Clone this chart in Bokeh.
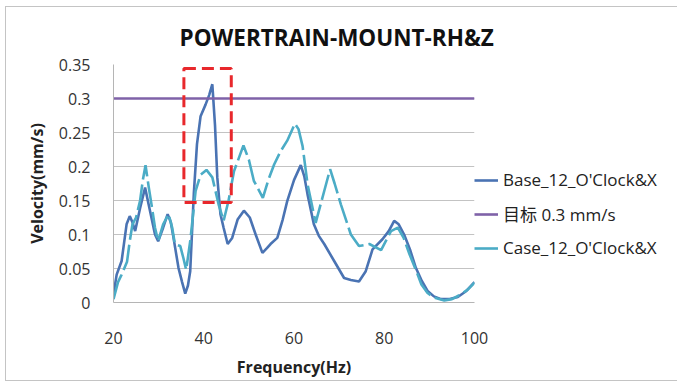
from bokeh.plotting import figure
from bokeh.models import Legend, LegendItem, FixedTicker, Range1d, NumeralTickFormatter
from bokeh.embed import file_html
from bokeh.resources import INLINE

# ---- data ----
base_freq = [20, 20.7, 21.8, 22.9, 23.6, 24.2, 24.8, 25.9, 27.0, 27.6, 28.4, 29.2, 29.9,
             31.0, 32.0, 32.7, 33.3, 34.4, 35.2, 35.9, 36.5, 37.0, 37.8, 38.5, 39.3,
             40.4, 41.2, 41.9, 42.5, 43.0, 43.7, 44.4, 45.3, 46.3, 47.5, 48.9, 50.2,
             51.5, 53.0, 54.0, 54.8, 56.3, 57.5, 58.5, 60.0, 61.5, 62.3, 63.0, 64.4,
             65.5, 66.7, 68.9, 71.1, 72.6, 74.4, 75.9, 77.4, 79.6, 81.0, 82.2, 83.2,
             84.4, 85.7, 87.0, 88.3, 89.6, 91.0, 92.6, 94.5, 96.3, 98.2, 100]
base_vel = [0.012, 0.041, 0.061, 0.115, 0.127, 0.118, 0.105, 0.139, 0.169, 0.150, 0.125, 0.100, 0.090,
            0.110, 0.130, 0.118, 0.095, 0.051, 0.030, 0.013, 0.025, 0.046, 0.160, 0.233, 0.274,
            0.291, 0.305, 0.321, 0.260, 0.184, 0.130, 0.110, 0.086, 0.095, 0.122, 0.135, 0.125,
            0.100, 0.073, 0.080, 0.086, 0.095, 0.122, 0.149, 0.180, 0.202, 0.185, 0.159, 0.115,
            0.098, 0.086, 0.061, 0.036, 0.033, 0.031, 0.046, 0.078, 0.093, 0.105, 0.120, 0.115,
            0.100, 0.078, 0.051, 0.032, 0.017, 0.009, 0.005, 0.005, 0.008, 0.017, 0.030]

case_freq = [20, 21.0, 21.8, 23.0, 23.6, 24.2, 25.0, 25.9, 26.5, 27.1, 27.8, 28.4, 29.2, 29.9,
             31.0, 32.2, 33.0, 33.6, 34.8, 35.5, 36.1, 37.0, 38.2, 39.3, 40.6, 41.9,
             43.3, 44.4, 45.5, 46.7, 48.8, 50.0, 51.1, 53.1, 54.3, 55.6, 57.0, 58.5,
             60.2, 61.0, 61.9, 63.0, 64.8, 66.7, 68.0, 69.0, 70.4, 72.6, 74.4, 76.7,
             79.3, 81.5, 83.0, 84.3, 85.6, 87.0, 88.2, 89.6, 91.1, 93.3, 95.0, 97.0, 98.5, 100]
case_vel = [0.005, 0.030, 0.041, 0.060, 0.090, 0.115, 0.125, 0.150, 0.180, 0.202, 0.170, 0.145, 0.110, 0.090,
            0.115, 0.130, 0.110, 0.086, 0.083, 0.065, 0.048, 0.090, 0.164, 0.188, 0.195, 0.184,
            0.144, 0.120, 0.150, 0.193, 0.231, 0.210, 0.179, 0.154, 0.180, 0.203, 0.222, 0.238,
            0.263, 0.255, 0.230, 0.174, 0.117, 0.164, 0.196, 0.175, 0.144, 0.100, 0.083, 0.086,
            0.077, 0.105, 0.110, 0.095, 0.071, 0.048, 0.027, 0.014, 0.007, 0.003, 0.005, 0.012, 0.019, 0.029]

target_freq = [20, 100]
target_vel = [0.3, 0.3]

box_freq = [35.6, 46.1]
box_vel = [0.147, 0.344]

x_ticks = [20, 40, 60, 80, 100]
y_ticks = [0, 0.05, 0.1, 0.15, 0.2, 0.25, 0.3, 0.35]

series_names = ["Base_12_O'Clock&X", "目标 0.3 mm/s", "Case_12_O'Clock&X"]

FONT = "'Open Sans', 'Noto Sans CJK SC'"

p = figure(frame_width=361, frame_height=238, output_backend="svg", toolbar_location=None,
           x_range=Range1d(20, 100), y_range=Range1d(0, 0.35),
           min_border_left=107, min_border_right=196, min_border_top=57, min_border_bottom=74,
           background_fill_color="white", border_fill_color="white")
p.styles = {"margin-left": "5px", "margin-top": "6px", "border": "1px solid #c4c4c4"}

p.title.text = "POWERTRAIN-MOUNT-RH&Z"
p.title.align = "left"
p.title.offset = 66
p.title.standoff = 23
p.title.text_font = FONT
p.title.text_font_size = "22.5px"
p.title.text_font_style = "bold"
p.title.text_color = "#111111"

r_base = p.line(base_freq, base_vel, line_color="#4A73B3", line_width=2.6)
r_target = p.line(target_freq, target_vel, line_color="#7F62A8", line_width=2.6)
r_case = p.line(case_freq, case_vel, line_color="#4BACC6", line_width=2.6, line_dash="26 5")

p.quad(left=[box_freq[0]], right=[box_freq[1]], bottom=[box_vel[0]], top=[box_vel[1]],
       fill_alpha=0, line_color="#E8282C", line_width=3, line_dash="12 6")

# axes
p.xaxis.ticker = FixedTicker(ticks=x_ticks)
p.yaxis.ticker = FixedTicker(ticks=y_ticks)
p.yaxis.formatter = NumeralTickFormatter(format="0.[00]")
for ax in (p.xaxis[0], p.yaxis[0]):
    ax.major_tick_line_color = None
    ax.minor_tick_line_color = None
    ax.axis_line_color = "#B5B5B5"
    ax.major_label_text_font = FONT
    ax.major_label_text_font_size = "16px"
    ax.major_label_text_color = "#333333"
    ax.axis_label_text_font = FONT
    ax.axis_label_text_font_size = "16px"
    ax.axis_label_text_font_style = "bold"
    ax.axis_label_text_color = "#222222"
p.xaxis.axis_label = "Frequency(Hz)"
p.yaxis.axis_label = "Velocity(mm/s)"
p.xaxis.major_label_standoff = 23
p.xaxis.axis_label_standoff = 9
p.yaxis.major_label_standoff = 17
p.yaxis.axis_label_standoff = 8

p.xgrid.grid_line_color = None
p.ygrid.grid_line_color = "#C3C3C3"
p.ygrid.grid_line_width = 1
p.outline_line_color = None

legend = Legend(items=[LegendItem(label=series_names[0], renderers=[r_base]),
                       LegendItem(label=series_names[1], renderers=[r_target]),
                       LegendItem(label=series_names[2], renderers=[r_case])],
                location="top_left", orientation="vertical",
                title=" ", title_text_font_size="10px", title_standoff=93,
                glyph_width=24, glyph_height=20, label_height=20, spacing=10,
                padding=0, margin=0, border_line_color=None, background_fill_alpha=0,
                label_standoff=5, label_text_font=FONT, label_text_font_size="17px",
                label_text_color="#222222")
p.add_layout(legend, "right")

open("out.html", "w").write(file_html(p, INLINE))
